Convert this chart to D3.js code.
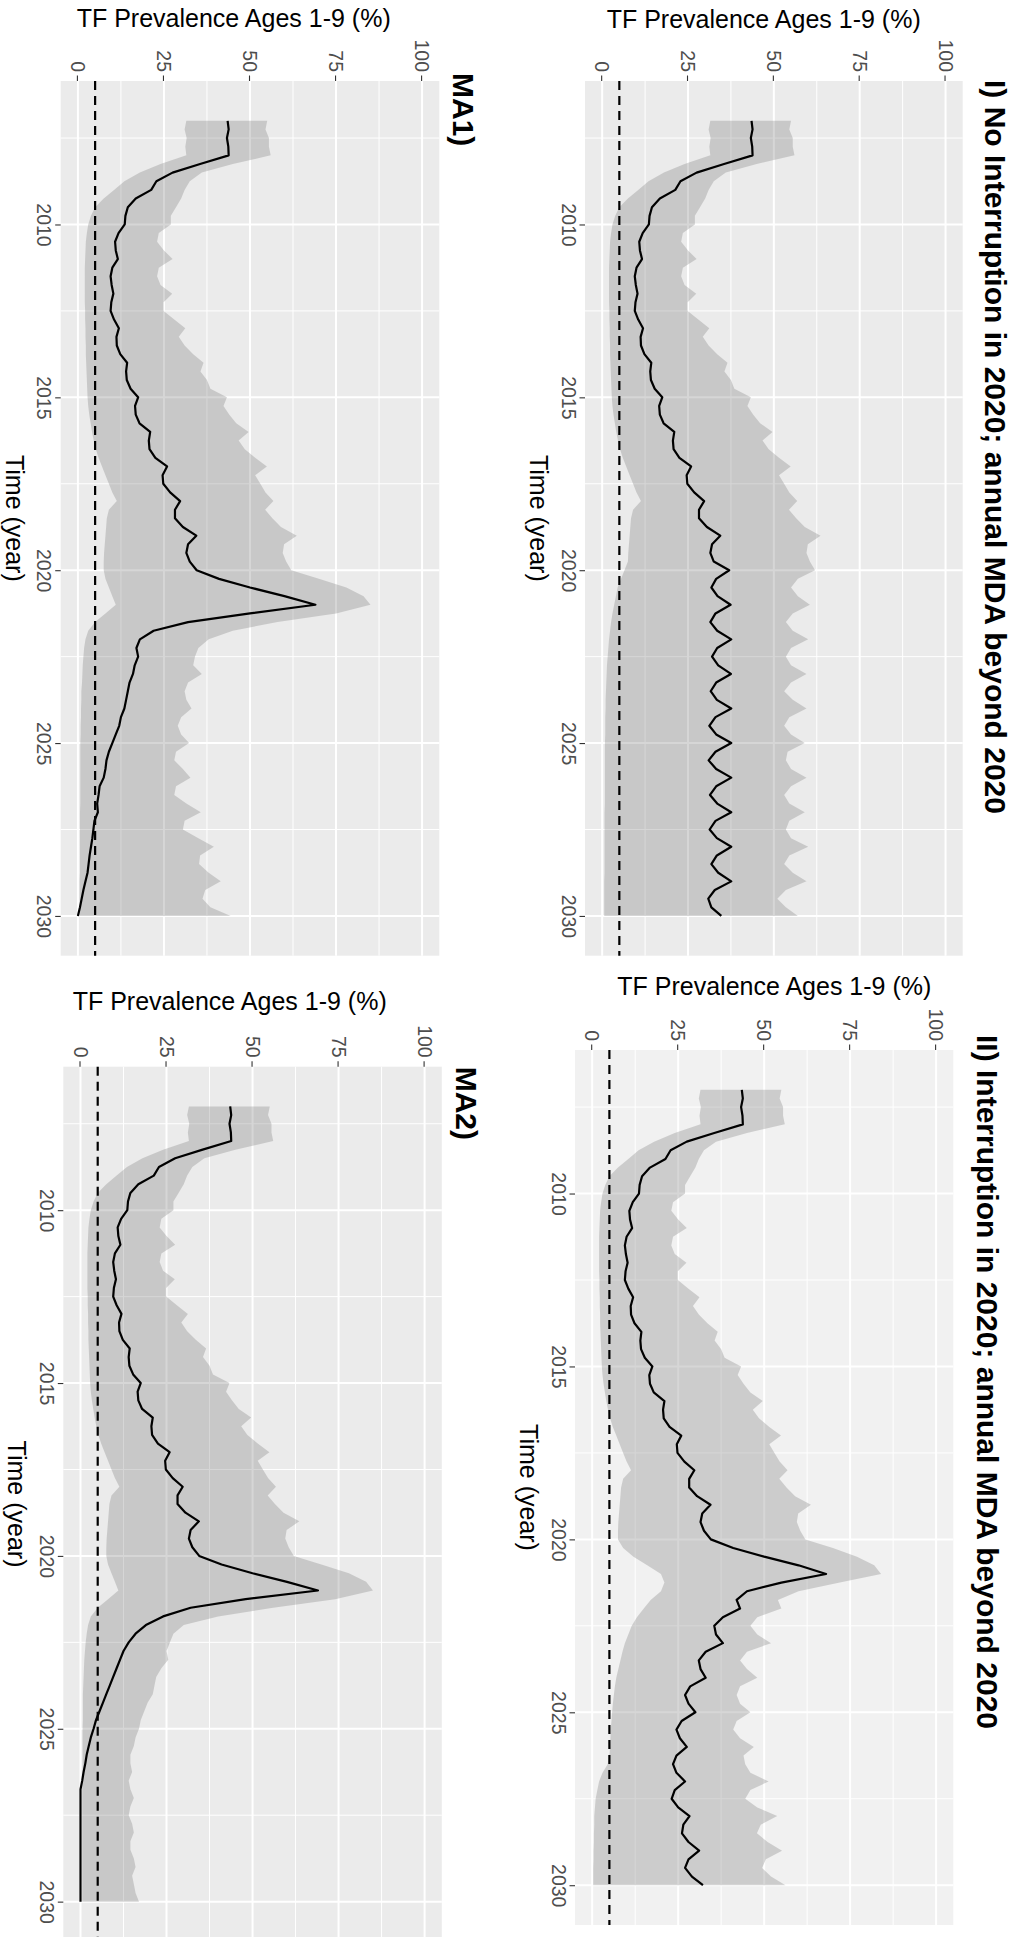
<!DOCTYPE html>
<html>
<head>
<meta charset="utf-8">
<script src="https://cdn.jsdelivr.net/npm/d3@7"></script>
<style>
  body { margin: 0; background: #fff; }
  text { font-family: "Liberation Sans", Arial, Helvetica, sans-serif; }
</style>
</head>
<body>
<div id="chart-area"></div>
<script>
// ---- data -------------------------------------------------------------
// shared history 2007 - 2019.75 (same simulation in every scenario)
var baseYears = [2007, 2007.25, 2007.5, 2007.75, 2008, 2008.25, 2008.5, 2008.75,
  2009, 2009.25, 2009.5, 2009.75, 2010, 2010.25, 2010.5, 2010.75,
  2011, 2011.25, 2011.5, 2011.75, 2012, 2012.25, 2012.5, 2012.75,
  2013, 2013.25, 2013.5, 2013.75, 2014, 2014.25, 2014.5, 2014.75,
  2015, 2015.25, 2015.5, 2015.75, 2016, 2016.25, 2016.5, 2016.75,
  2017, 2017.25, 2017.5, 2017.75, 2018, 2018.25, 2018.5, 2018.75,
  2019, 2019.25, 2019.5, 2019.75];
var baseMean = [43.5, 43.8, 43.3, 43.7, 43.8, 35.5, 27.5, 22.8,
  21.3, 16.8, 14.5, 13.8, 13.6, 11.8, 10.8, 11.0,
  11.6, 10.0, 9.5, 9.8, 10.3, 9.7, 9.5, 10.5,
  11.9, 11.2, 11.3, 12.3, 14.3, 14.0, 14.2, 15.3,
  17.5, 16.6, 16.8, 17.9, 21.0, 20.6, 20.8, 22.5,
  25.9, 24.6, 24.8, 26.8, 29.7, 28.2, 28.2, 30.5,
  34.4, 32.0, 31.5, 32.5];
var baseLow = [31.5, 31.0, 31.6, 31.2, 31.5, 24.0, 18.0, 13.5,
  10.5, 7.5, 5.0, 3.8, 3.0, 2.6, 2.3, 2.2,
  2.1, 2.0, 2.0, 2.0, 2.0, 2.0, 2.1, 2.1,
  2.2, 2.2, 2.3, 2.3, 2.4, 2.5, 2.6, 2.7,
  2.8, 3.0, 3.3, 3.7, 4.1, 4.6, 5.2, 6.0,
  7.0, 8.0, 9.0, 10.0, 11.3, 9.0, 8.4, 8.2,
  8.0, 7.8, 7.6, 7.5];
var baseHigh = [55.0, 54.5, 55.5, 55.5, 56.0, 45.0, 36.0, 32.5,
  31.0, 30.0, 28.5, 27.0, 27.0, 23.5, 23.0, 25.0,
  27.5, 23.5, 23.0, 24.0, 27.4, 24.9, 24.9, 28.0,
  31.2, 29.3, 31.0, 33.5, 36.5, 35.6, 37.5, 38.5,
  43.3, 42.3, 44.0, 46.0, 49.6, 46.7, 48.5, 51.5,
  54.9, 51.5, 53.0, 54.5, 56.8, 54.4, 56.5, 59.0,
  63.6, 59.9, 59.5, 60.5];

// scenario part 2020 - 2030
var lateYears = [2020, 2020.25, 2020.5, 2020.75, 2021, 2021.25, 2021.5, 2021.75,
  2022, 2022.25, 2022.5, 2022.75, 2023, 2023.25, 2023.5, 2023.75,
  2024, 2024.25, 2024.5, 2024.75, 2025, 2025.25, 2025.5, 2025.75,
  2026, 2026.25, 2026.5, 2026.75, 2027, 2027.25, 2027.5, 2027.75,
  2028, 2028.25, 2028.5, 2028.75, 2029, 2029.25, 2029.5, 2029.75, 2030];

// I) no interruption
var meanI = [37.0, 33.2, 31.8, 33.6, 37.4, 33.0, 31.5, 33.5,
  37.6, 33.5, 32.0, 33.8, 37.5, 33.2, 31.6, 33.4,
  37.6, 33.0, 31.2, 33.2, 37.6, 33.0, 31.0, 33.2,
  37.6, 33.2, 31.4, 33.5, 37.6, 33.0, 31.3, 33.4,
  37.6, 33.4, 31.8, 33.8, 37.6, 32.8, 30.9, 31.8, 34.7];
var lowI = [6.5, 5.5, 4.5, 4.0, 3.5, 3.0, 2.6, 2.3,
  2.0, 1.8, 1.6, 1.4, 1.3, 1.2, 1.1, 1.0,
  1.0, 0.9, 0.9, 0.9, 0.8, 0.8, 0.8, 0.8,
  0.8, 0.8, 0.8, 0.8, 0.7, 0.7, 0.7, 0.7,
  0.7, 0.7, 0.7, 0.7, 0.6, 0.6, 0.6, 0.6, 0.6];
var highI = [62.0, 57.0, 55.0, 57.0, 60.5, 55.5, 53.5, 55.5,
  60.0, 55.0, 53.5, 55.0, 59.5, 55.0, 53.0, 55.5,
  59.5, 54.5, 53.0, 55.0, 59.0, 54.0, 53.5, 55.0,
  59.5, 55.0, 53.0, 54.5, 59.0, 54.5, 53.5, 55.0,
  60.0, 54.5, 53.0, 55.5, 59.5, 53.5, 51.0, 53.5, 57.0];

// II) interruption in 2020
var meanII = [34.5, 41.0, 50.0, 60.0, 68.0, 55.0, 45.0, 42.0,
  43.0, 38.0, 35.5, 36.0, 38.0, 33.0, 31.0, 31.5,
  33.0, 28.5, 27.0, 28.0, 30.0, 26.0, 24.5, 25.5,
  27.5, 24.5, 23.5, 24.5, 27.0, 24.0, 23.1, 25.0,
  28.3, 26.5, 26.1, 28.0, 31.1, 28.0, 27.0, 29.0, 32.2];
var lowII = [7.5, 9.0, 12.0, 16.0, 20.0, 21.0, 20.0, 17.0,
  15.0, 13.0, 11.5, 10.5, 9.5, 8.8, 8.2, 7.6,
  7.0, 6.6, 6.3, 6.0, 5.8, 5.6, 5.4, 5.3,
  5.2, 5.0, 4.5, 3.0, 2.0, 1.5, 1.0, 0.8,
  0.6, 0.6, 0.5, 0.5, 0.4, 0.4, 0.3, 0.3, 0.3];
var highII = [62.0, 70.0, 77.0, 82.0, 84.0, 72.0, 60.0, 54.0,
  55.0, 48.0, 46.0, 48.0, 52.0, 45.0, 43.0, 45.0,
  48.0, 43.0, 42.0, 43.0, 46.0, 42.0, 41.0, 43.0,
  47.0, 44.0, 44.5, 46.0, 51.3, 46.0, 44.5, 48.0,
  53.8, 49.0, 47.9, 51.0, 55.2, 50.5, 49.4, 52.0, 56.2];

// MA1)
var meanMA1 = [34.5, 41.0, 50.0, 60.0, 69.0, 50.0, 32.0, 22.0,
  18.0, 17.0, 17.5, 16.5, 16.0, 15.0, 14.5, 14.0,
  13.5, 12.5, 12.0, 11.0, 10.0, 9.0, 8.3, 8.0,
  7.5, 6.3, 6.0, 5.6, 5.8, 4.8, 4.5, 4.2,
  3.8, 3.4, 3.1, 2.8, 2.2, 1.6, 1.1, 0.6, 0.0];
var lowMA1 = [7.5, 8.0, 9.0, 10.0, 11.0, 8.0, 5.0, 3.0,
  2.2, 1.8, 1.6, 1.4, 1.3, 1.2, 1.0, 1.0,
  0.9, 0.9, 0.8, 0.8, 0.7, 0.7, 0.7, 0.7,
  0.7, 0.7, 0.7, 0.7, 0.6, 0.6, 0.6, 0.6,
  0.6, 0.6, 0.6, 0.6, 0.5, 0.5, 0.5, 0.5, 0.5];
var highMA1 = [62.0, 70.0, 78.0, 83.0, 85.0, 75.0, 58.0, 45.0,
  38.0, 35.0, 34.0, 33.5, 36.0, 32.0, 31.0, 31.5,
  33.0, 30.0, 29.0, 30.0, 32.3, 28.5, 28.0, 30.5,
  32.7, 28.5, 28.0, 31.5, 35.7, 31.0, 30.5, 35.0,
  39.5, 35.5, 35.2, 38.0, 41.5, 37.0, 36.2, 38.5, 44.4];

// MA2)
var meanMA2 = [34.5, 41.0, 50.0, 60.0, 69.0, 48.0, 32.0, 24.0,
  19.0, 16.0, 14.0, 12.5, 11.5, 10.5, 9.5, 8.5,
  7.5, 6.5, 5.5, 4.5, 3.8, 3.0, 2.4, 1.8,
  1.4, 0.9, 0.5, 0.0, 0.0, 0.0, 0.0, 0.0,
  0.0, 0.0, 0.0, 0.0, 0.0, 0.0, 0.0, 0.0, 0.0];
var lowMA2 = [7.5, 8.0, 9.0, 10.0, 11.0, 8.0, 5.0, 3.0,
  2.2, 1.8, 1.5, 1.3, 1.1, 1.0, 0.9, 0.8,
  0.7, 0.7, 0.7, 0.7, 0.6, 0.6, 0.6, 0.6,
  0.6, 0.6, 0.5, 0.5, 0.5, 0.5, 0.5, 0.5,
  0.5, 0.5, 0.5, 0.5, 0.5, 0.5, 0.5, 0.5, 0.5];
var highMA2 = [62.0, 70.0, 78.0, 83.0, 85.0, 74.0, 56.0, 40.0,
  30.0, 27.0, 26.0, 25.0, 25.5, 23.5, 22.0, 21.5,
  21.0, 19.5, 18.5, 17.5, 17.0, 16.0, 15.5, 14.5,
  14.5, 15.0, 14.0, 14.5, 15.5, 14.5, 14.0, 15.0,
  15.5, 14.5, 14.5, 15.5, 16.0, 15.0, 15.5, 16.0, 17.0];

var yearTicks = [2010, 2015, 2020, 2025, 2030];
var yearMinor = [2007.5, 2012.5, 2017.5, 2022.5, 2027.5];
var valueTicks = [0, 25, 50, 75, 100];
var valueMinor = [12.5, 37.5, 62.5, 87.5];
var threshold = 5;

var titles = ["I) No Interruption in 2020; annual MDA beyond 2020",
  "II) Interruption in 2020; annual MDA beyond 2020", "MA1)", "MA2)"];
var yTitle = "TF Prevalence Ages 1-9 (%)";
var xTitle = "Time (year)";

// ---- layout (drawn landscape, then turned a quarter clockwise) ---------
var panels = [
  {title: titles[0], mean: meanI, low: lowI, high: highI, bg: "#ebebeb",
   x0: 81, x1: 955.7, y0: 54.3, y1: 432, tx: 80, ty: 32, ax: 28.3, ay: 410.3},
  {title: titles[1], mean: meanII, low: lowII, high: highII, bg: "#f1f1f1",
   x0: 1050, x1: 1925, y0: 63.7, y1: 442, tx: 1035, ty: 40, ax: 995, ay: 399.7},
  {title: titles[2], mean: meanMA1, low: lowMA1, high: highMA1, bg: "#ebebeb",
   x0: 81, x1: 955.7, y0: 577.7, y1: 956.3, tx: 73, ty: 564, ax: 27.3, ay: 940.3},
  {title: titles[3], mean: meanMA2, low: lowMA2, high: highMA2, bg: "#ebebeb",
   x0: 1066.7, x1: 1941.4, y0: 575.2, y1: 953.7, tx: 1066.7, ty: 561, ax: 1010, ay: 944.3}
];

var svg = d3.select("#chart-area").append("svg")
  .attr("width", 1017)
  .attr("height", 1937);

var fig = svg.append("g")
  .attr("transform", "translate(1017,0) rotate(90)");

panels.forEach(function(p) {
  var years = baseYears.concat(lateYears);
  var mean = baseMean.concat(p.mean);
  var low = baseLow.concat(p.low);
  var high = baseHigh.concat(p.high);
  var rows = years.map(function(t, i) {
    return {t: t, m: mean[i], lo: low[i], hi: high[i]};
  });

  // ggplot style 5% expansion on both axes
  var ext = d3.extent(years), pad = (ext[1] - ext[0]) * 0.05;
  var x = d3.scaleLinear().domain([ext[0] - pad, ext[1] + pad]).range([p.x0, p.x1]);
  var vext = d3.extent(valueTicks), vpad = (vext[1] - vext[0]) * 0.05;
  var y = d3.scaleLinear().domain([vext[0] - vpad, vext[1] + vpad]).range([p.y1, p.y0]);

  var g = fig.append("g");

  g.append("rect")
    .attr("x", p.x0).attr("y", p.y0)
    .attr("width", p.x1 - p.x0).attr("height", p.y1 - p.y0)
    .attr("fill", p.bg);

  // grid
  g.selectAll(".vminor").data(valueMinor).enter().append("line")
    .attr("x1", p.x0).attr("x2", p.x1)
    .attr("y1", function(d) { return y(d); }).attr("y2", function(d) { return y(d); })
    .attr("stroke", "#fff").attr("stroke-width", 1);
  g.selectAll(".tminor").data(yearMinor).enter().append("line")
    .attr("y1", p.y0).attr("y2", p.y1)
    .attr("x1", function(d) { return x(d); }).attr("x2", function(d) { return x(d); })
    .attr("stroke", "#fff").attr("stroke-width", 1);
  g.selectAll(".vmajor").data(valueTicks).enter().append("line")
    .attr("x1", p.x0).attr("x2", p.x1)
    .attr("y1", function(d) { return y(d); }).attr("y2", function(d) { return y(d); })
    .attr("stroke", "#fff").attr("stroke-width", 2);
  g.selectAll(".tmajor").data(yearTicks).enter().append("line")
    .attr("y1", p.y0).attr("y2", p.y1)
    .attr("x1", function(d) { return x(d); }).attr("x2", function(d) { return x(d); })
    .attr("stroke", "#fff").attr("stroke-width", 2);

  // uncertainty ribbon
  var area = d3.area()
    .x(function(d) { return x(d.t); })
    .y0(function(d) { return y(d.lo); })
    .y1(function(d) { return y(d.hi); });
  g.append("path").datum(rows)
    .attr("d", area)
    .attr("fill", "#7f7f7f")
    .attr("fill-opacity", 0.32);

  // 5% elimination threshold
  g.append("line")
    .attr("x1", p.x0).attr("x2", p.x1)
    .attr("y1", y(threshold)).attr("y2", y(threshold))
    .attr("stroke", "#000").attr("stroke-width", 2.2)
    .attr("stroke-dasharray", "9,6");

  // mean prevalence
  var line = d3.line()
    .x(function(d) { return x(d.t); })
    .y(function(d) { return y(d.m); });
  g.append("path").datum(rows)
    .attr("d", line)
    .attr("fill", "none")
    .attr("stroke", "#000")
    .attr("stroke-width", 2.2)
    .attr("stroke-linejoin", "round");

  // axes
  var xAxis = g.append("g")
    .attr("transform", "translate(0," + p.y1 + ")")
    .call(d3.axisBottom(x).tickValues(yearTicks).tickFormat(d3.format("d"))
      .tickSize(5.5).tickPadding(4));
  var yAxis = g.append("g")
    .attr("transform", "translate(" + p.x0 + ",0)")
    .call(d3.axisLeft(y).tickValues(valueTicks).tickSize(5.5).tickPadding(3.5));
  [xAxis, yAxis].forEach(function(a) {
    a.select(".domain").remove();
    a.selectAll(".tick line").attr("stroke", "#333").attr("stroke-width", 1.1);
    a.selectAll(".tick text")
      .attr("fill", "#4d4d4d")
      .style("font-size", "19.5px")
      .style("font-family", "'Liberation Sans', Arial, sans-serif");
  });

  // titles
  g.append("text")
    .attr("x", p.tx).attr("y", p.ty)
    .style("font-size", "30px").style("font-weight", "bold")
    .attr("fill", "#000")
    .text(p.title);

  g.append("text")
    .attr("transform", "translate(" + p.ax + "," + p.ay + ") rotate(-90)")
    .style("font-size", "25px")
    .attr("fill", "#000")
    .text(yTitle);

  g.append("text")
    .attr("x", (p.x0 + p.x1) / 2).attr("y", p.y1 + 55)
    .attr("text-anchor", "middle")
    .style("font-size", "25px")
    .attr("fill", "#000")
    .text(xTitle);
});
</script>
</body>
</html>
